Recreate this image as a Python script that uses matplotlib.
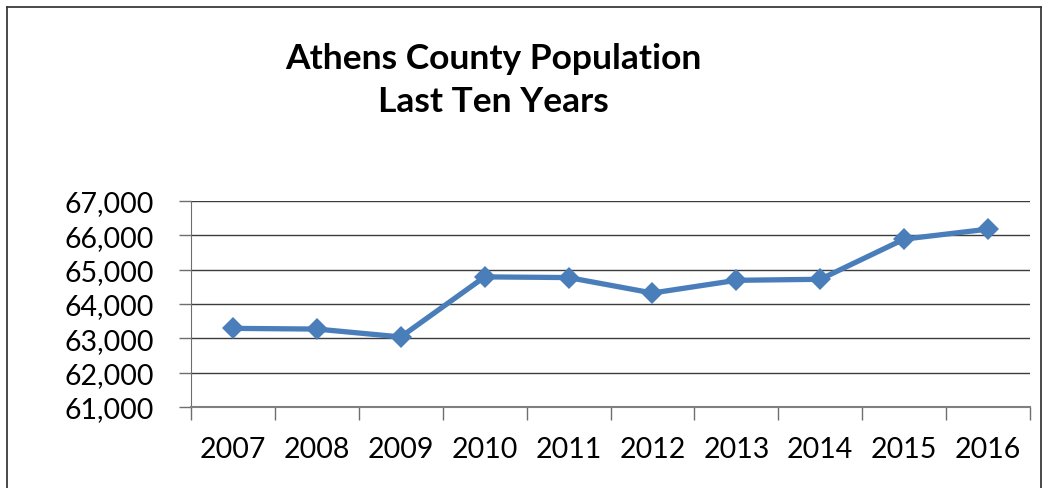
import matplotlib
matplotlib.use("Agg")
import matplotlib.pyplot as plt
from matplotlib.ticker import FuncFormatter, FixedLocator
from matplotlib.lines import Line2D

years = ["2007", "2008", "2009", "2010", "2011", "2012", "2013", "2014", "2015", "2016"]
population = [63290, 63270, 63040, 64790, 64770, 64320, 64690, 64720, 65890, 66180]
y_ticks = [61000, 62000, 63000, 64000, 65000, 66000, 67000]
title = "Athens County Population\nLast Ten Years"

W, H = 1046, 489
fig = plt.figure(figsize=(W / 100, H / 100), dpi=100)
fig.patch.set_facecolor("white")

def fx(px):
    return px / W

def fy(py):
    return 1 - py / H

# outer chart border (bottom edge is cut off in the reference)
bc = "#3a3a3a"
fig.add_artist(Line2D([fx(7), fx(7)], [fy(8), fy(495)], color=bc, lw=1.3, transform=fig.transFigure))
fig.add_artist(Line2D([fx(7), fx(1041)], [fy(8), fy(8)], color=bc, lw=1.3, transform=fig.transFigure))
fig.add_artist(Line2D([fx(1041), fx(1041)], [fy(8), fy(495)], color=bc, lw=1.3, transform=fig.transFigure))

ax = fig.add_axes([fx(191), fy(408), fx(1030) - fx(191), fy(202) - fy(408)])
x = list(range(len(years)))
ax.plot(x, population, color="#4A7EBB", lw=3.8, marker="D", markersize=11.5,
        markeredgewidth=0, solid_joinstyle="round", zorder=3, clip_on=False)

ax.set_xlim(-0.5, len(years) - 0.5)
ax.set_ylim(y_ticks[0], y_ticks[-1])
ax.set_yticks(y_ticks)
ax.yaxis.set_major_formatter(FuncFormatter(lambda v, p: f"{int(v):,}"))
ax.grid(axis="y", color="#3c3c3c", lw=1.0)
ax.set_axisbelow(True)

ax.set_xticks(x)
ax.set_xticklabels(years)
ax.xaxis.set_minor_locator(FixedLocator([i - 0.5 for i in range(len(years) + 1)]))
ax.tick_params(axis="x", which="major", length=0, pad=21)
ax.tick_params(axis="x", which="minor", length=9, width=1.0, color="#6e6e6e", direction="out")
ax.tick_params(axis="y", which="major", length=9, width=1.0, color="#6e6e6e", direction="out", pad=18)

for lab in ax.get_xticklabels() + ax.get_yticklabels():
    lab.set_fontfamily("Lato")
    lab.set_fontsize(20.5)
    lab.set_color("black")

for s in ["top", "right"]:
    ax.spines[s].set_visible(False)
ax.spines["left"].set_color("#6e6e6e")
ax.spines["bottom"].set_color("#808080")
ax.spines["bottom"].set_linewidth(1.5)

fig.text(fx(493), fy(80.5), title, ha="center", va="center", fontsize=25.5,
         fontweight="bold", family="Lato", linespacing=1.4)

fig.savefig("out.png", dpi=100)
